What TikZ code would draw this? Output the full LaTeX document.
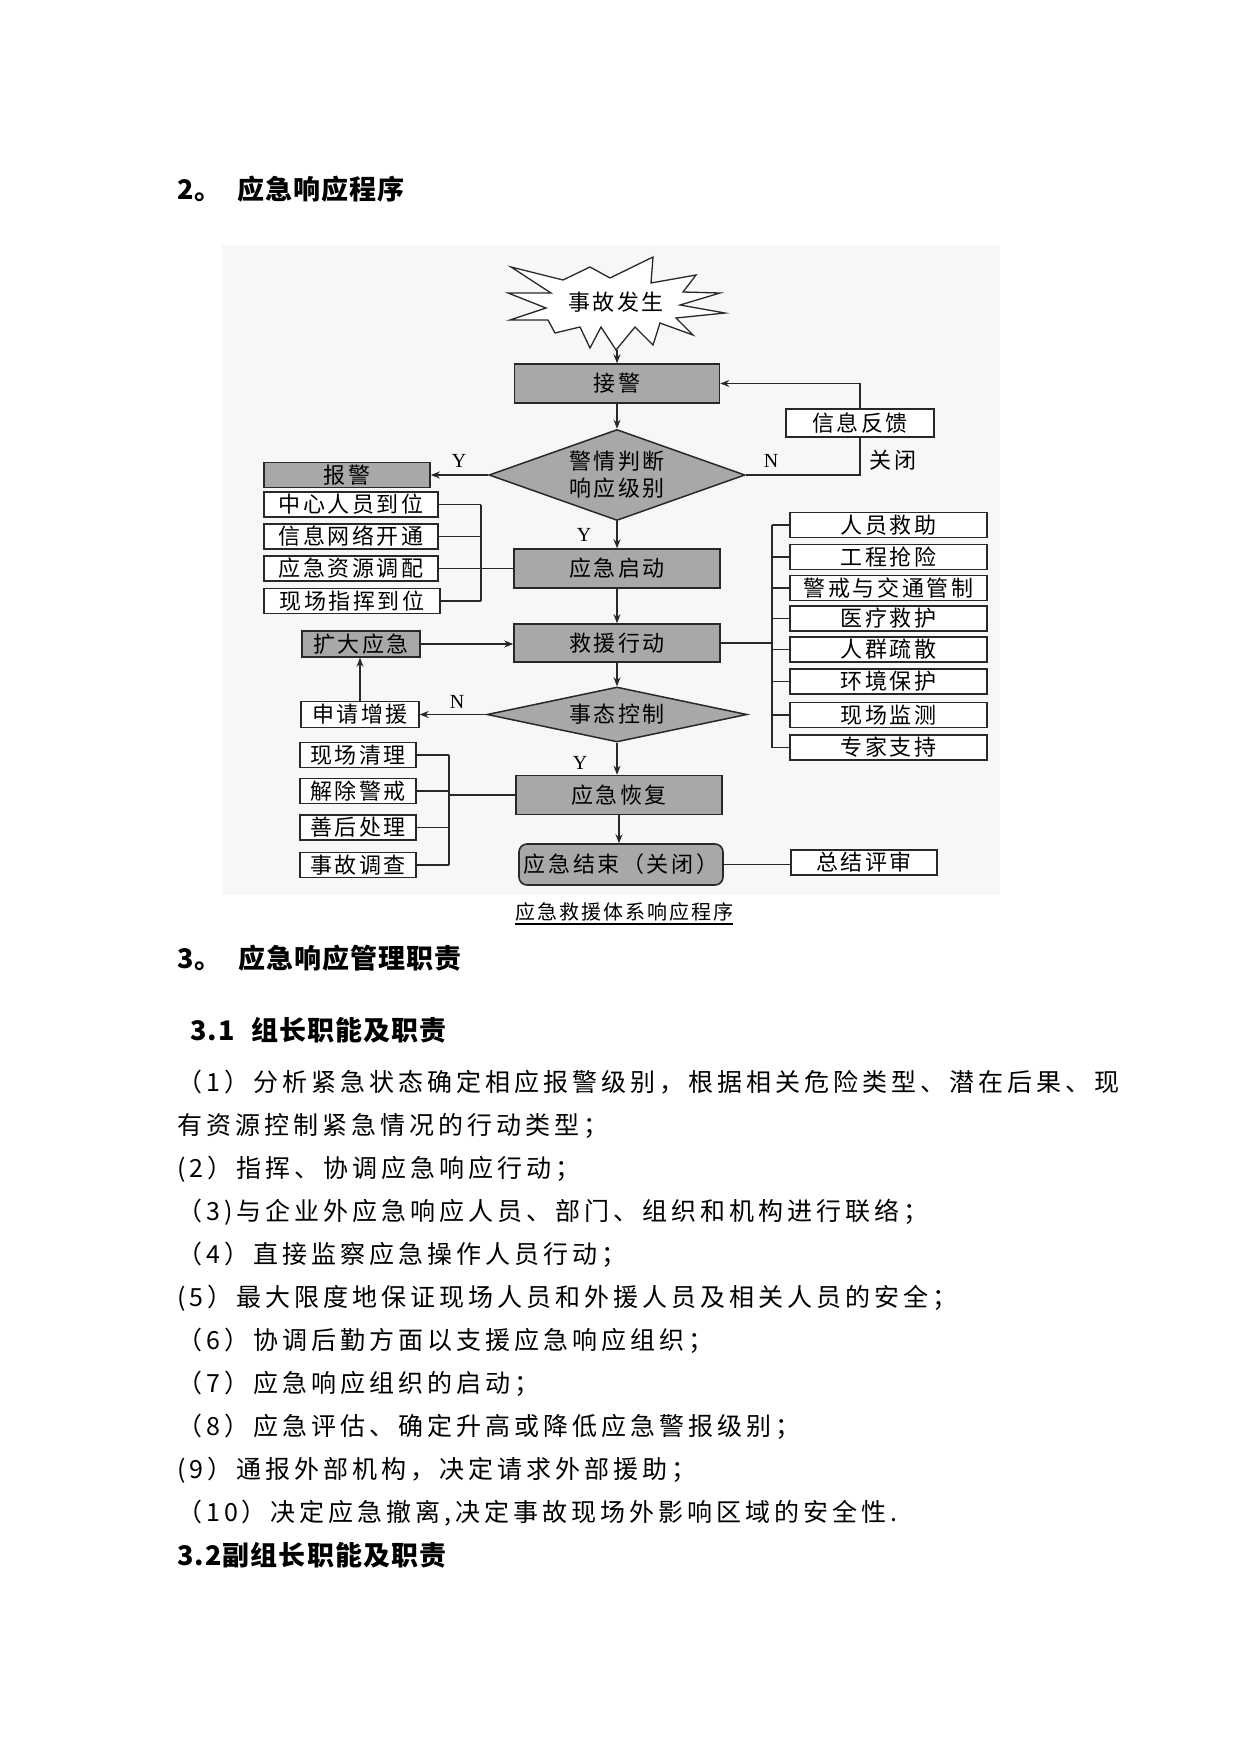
\documentclass[tikz,border=0pt]{standalone}
\usepackage{fontspec}
\usetikzlibrary{arrows.meta,shapes.geometric}
\setmainfont{Noto Sans CJK SC}
\newfontfamily\cjkbody[LetterSpace=16]{Noto Sans CJK SC}
\newfontfamily\cjkbox[LetterSpace=12]{Noto Sans CJK SC}
\newfontfamily\cjkcap[LetterSpace=10]{Noto Sans CJK SC}
\newfontfamily\cjkhead[LetterSpace=4]{Noto Sans CJK SC}
\newfontfamily\ynserif{Liberation Serif}
\newcommand{\dgfont}{\cjkbox\fontsize{22}{27}\selectfont}
\newcommand{\bdfont}{\cjkbody\fontsize{25}{30}\selectfont}
\newcommand{\hdfont}{\cjkhead\bfseries\fontsize{27}{32}\selectfont}
\newcommand{\cpfont}{\cjkcap\fontsize{20}{24}\selectfont}
\newcommand{\ynfont}{\ynserif\fontsize{20}{24}\selectfont}
\definecolor{boxgray}{RGB}{168,168,168}
\definecolor{lnc}{RGB}{40,40,40}
\begin{document}
\begin{tikzpicture}[x=1pt,y=-1pt,
  graybox/.style={draw=lnc, line width=1.6pt, fill=boxgray, inner sep=0pt, font=\dgfont},
  whitebox/.style={draw=lnc, line width=1.4pt, fill=white, inner sep=0pt, font=\dgfont},
  dia/.style={diamond, draw=lnc, line width=1.5pt, fill=boxgray, inner sep=0pt},
  conn/.style={draw=lnc, line width=1.3pt},
  arr/.style={conn, -{Stealth[length=9pt,width=7pt]}},
  lbl/.style={font=\ynfont, inner sep=0pt},
  bodyline/.style={font=\bdfont, anchor=base west, inner sep=0pt},
  headline/.style={font=\hdfont, anchor=base west, inner sep=0pt}
]
\useasboundingbox[fill=white] (0,0) rectangle (1241,1755);

% scanned picture background
\fill[black!3] (222,245) rectangle (1000,895);

% headings
\node[headline] (h1) at (177,200) {\makebox[60pt][l]{2。}应急响应程序};

% star
\begin{scope}[xshift=3pt]
\draw[lnc, line width=1.3pt, fill=white]
  (508,267) -- (560,280) -- (587,267) -- (607,278) -- (650,257) -- (648,283)
  -- (693,275) -- (680,292) -- (717,293) -- (677,305) -- (722,313) -- (673,318)
  -- (690,335) -- (657,323) -- (650,345) -- (632,327) -- (613,350) -- (598,327)
  -- (587,348) -- (577,327) -- (552,333) -- (545,320) -- (507,320) -- (543,308)
  -- (505,293) -- (548,293) -- cycle;
\end{scope}
\node[font=\dgfont, inner sep=0pt] (star) at (616,302) {事故发生};
\coordinate (starbot) at (617,350);

% main column
\node[graybox, minimum width=205pt, minimum height=39pt] (jj) at (617,383.5) {接警};
\node[dia, minimum width=256pt, minimum height=91pt] (pd) at (617,475) {};
\node[font=\dgfont, align=center, inner sep=0pt] (pdt) at (617,475) {警情判断\\响应级别};
\node[graybox, minimum width=206pt, minimum height=39pt] (qd) at (617,568.5) {应急启动};
\node[graybox, minimum width=206pt, minimum height=38pt] (jy) at (617,643) {救援行动};
\node[dia, minimum width=260pt, minimum height=55pt] (tk) at (617,714.5) {};
\node[font=\dgfont, inner sep=0pt] (tkt) at (617,714.5) {事态控制};
\node[graybox, minimum width=206pt, minimum height=39pt] (hf) at (619,795) {应急恢复};
\node[graybox, rounded corners=8pt, minimum width=204pt, minimum height=41pt] (js) at (621,864.5) {应急结束（关闭）};

% feedback
\node[whitebox, minimum width=148pt, minimum height=28pt] (xxfk) at (860,423) {信息反馈};

% left upper
\node[graybox, minimum width=166pt, minimum height=25pt] (bj) at (347,475) {报警};
\node[whitebox, minimum width=174pt, minimum height=25pt] (zx1) at (351,504.5) {中心人员到位};
\node[whitebox, minimum width=174pt, minimum height=25pt] (zx2) at (351,536.5) {信息网络开通};
\node[whitebox, minimum width=174pt, minimum height=25pt] (zx3) at (351,568.5) {应急资源调配};
\node[whitebox, minimum width=176pt, minimum height=25pt] (zx4) at (352,601) {现场指挥到位};

% right column
\node[whitebox, minimum width=197pt, minimum height=25pt] (r1) at (888.5,525) {人员救助};
\node[whitebox, minimum width=197pt, minimum height=25pt] (r2) at (888.5,557) {工程抢险};
\node[whitebox, minimum width=197pt, minimum height=25pt] (r3) at (888.5,588) {警戒与交通管制};
\node[whitebox, minimum width=197pt, minimum height=25pt] (r4) at (888.5,618.5) {医疗救护};
\node[whitebox, minimum width=197pt, minimum height=25pt] (r5) at (888.5,649.5) {人群疏散};
\node[whitebox, minimum width=197pt, minimum height=25pt] (r6) at (888.5,681.5) {环境保护};
\node[whitebox, minimum width=197pt, minimum height=25pt] (r7) at (888.5,715) {现场监测};
\node[whitebox, minimum width=197pt, minimum height=25pt] (r8) at (888.5,747.5) {专家支持};

% left middle / lower
\node[graybox, minimum width=118pt, minimum height=26pt] (kd) at (361,644) {扩大应急};
\node[whitebox, minimum width=118pt, minimum height=26pt] (sq) at (360,714.5) {申请增援};
\node[whitebox, minimum width=116pt, minimum height=25pt] (l1) at (358,755) {现场清理};
\node[whitebox, minimum width=116pt, minimum height=25pt] (l2) at (358,791) {解除警戒};
\node[whitebox, minimum width=116pt, minimum height=25pt] (l3) at (358,827.5) {善后处理};
\node[whitebox, minimum width=116pt, minimum height=25pt] (l4) at (358,865) {事故调查};

\node[whitebox, minimum width=146pt, minimum height=25pt] (zj) at (864,862.5) {总结评审};

% connectors
\draw[arr] (starbot) -- (jj.north);
\draw[arr] (jj.south) -- (pd.north);
\draw[conn] (pd.east) -| (xxfk.south);
\draw[arr] (xxfk.north) |- (jj.east);
\draw[arr] (pd.west) -- (bj.east);
\draw[arr] (pd.south) -- (qd.north);
\draw[arr] (qd.south) -- (jy.north);
\draw[arr] (jy.south) -- (tk.north);
\draw[arr] (kd.east) -- (kd.east -| jy.west);
\draw[arr] (tk.west) -- (sq.east);
\draw[arr] (sq.north) -- (sq.north |- kd.south);
\draw[arr] (tk.south) -- (tk.south |- hf.north);
\draw[arr] (hf.south) -- (hf.south |- js.north);
\draw[conn] (js.east) -- (js.east -| zj.west);

% left upper bracket
\coordinate (bl) at (481,0);
\foreach \n in {zx1,zx2,zx4} \draw[conn] (\n.east) -- (\n.east -| bl);
\draw[conn] (zx1.east -| bl) -- (zx4.east -| bl);
\draw[conn] (zx3.east) -- (qd.west);

% right bracket
\coordinate (br) at (772,0);
\foreach \n in {r1,r2,r3,r4,r5,r6,r7,r8} \draw[conn] (\n.west -| br) -- (\n.west);
\draw[conn] (r1.west -| br) -- (r8.west -| br);
\draw[conn] (jy.east) -- (jy.east -| br);

% lower left bracket
\coordinate (bb) at (449,0);
\foreach \n in {l1,l2,l3,l4} \draw[conn] (\n.east) -- (\n.east -| bb);
\draw[conn] (l1.east -| bb) -- (l4.east -| bb);
\draw[conn] (hf.west -| bb) -- (hf.west);

% labels
\node[lbl] (yl1) at (459,461) {Y};
\node[lbl] (nl1) at (771,461) {N};
\node[font=\dgfont, inner sep=0pt] (gb) at (893,460) {关闭};
\node[lbl] (yl2) at (584,535) {Y};
\node[lbl] (nl2) at (457,702) {N};
\node[lbl] (yl3) at (580,763) {Y};

% caption
\node[font=\cpfont, anchor=base, inner sep=0pt] (cap) at (624,919.5) {应急救援体系响应程序};
\draw[line width=1.1pt] ([yshift=-4.5pt]cap.base west) -- ([yshift=-4.5pt]cap.base east);

% section 3
\node[headline] (h2) at (177,968) {\makebox[61pt][l]{3。}应急响应管理职责};
\node[headline] (h3) at (190,1040) {\makebox[61pt][l]{3.1}组长职能及职责};

\node[bodyline] (b1) at (177,1091.5) {（1）分析紧急状态确定相应报警级别，根据相关危险类型、潜在后果、现};
\node[bodyline] (b2) at (177,1134.5) {有资源控制紧急情况的行动类型；};
\node[bodyline] (b3) at (177,1177.5) {(2）指挥、协调应急响应行动；};
\node[bodyline] (b4) at (177,1220.5) {（3)与企业外应急响应人员、部门、组织和机构进行联络；};
\node[bodyline] (b5) at (177,1263.5) {（4）直接监察应急操作人员行动；};
\node[bodyline] (b6) at (177,1306.5) {(5）最大限度地保证现场人员和外援人员及相关人员的安全；};
\node[bodyline] (b7) at (177,1349.5) {（6）协调后勤方面以支援应急响应组织；};
\node[bodyline] (b8) at (177,1392.5) {（7）应急响应组织的启动；};
\node[bodyline] (b9) at (177,1435.5) {（8）应急评估、确定升高或降低应急警报级别；};
\node[bodyline] (b10) at (177,1478.5) {(9）通报外部机构，决定请求外部援助；};
\node[bodyline] (b11) at (177,1521.5) {（10）决定应急撤离,决定事故现场外影响区域的安全性.};
\node[headline] (h4) at (177,1565) {3.2副组长职能及职责};
\end{tikzpicture}
\end{document}
